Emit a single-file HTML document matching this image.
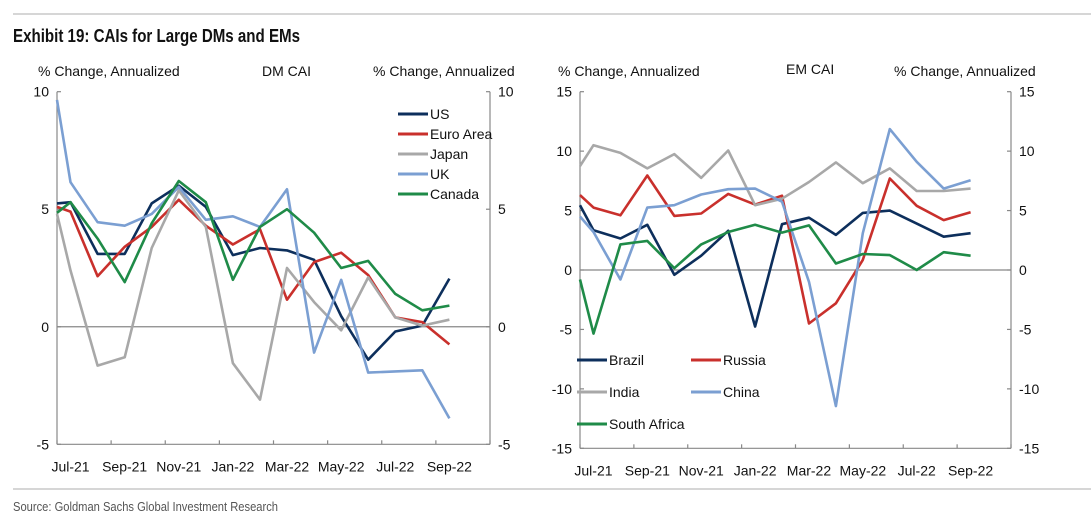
<!DOCTYPE html>
<html><head><meta charset="utf-8"><style>
body{margin:0;background:#fff;width:1091px;height:526px;overflow:hidden;font-family:"Liberation Sans",sans-serif}
svg text{font-family:"Liberation Sans",sans-serif;fill:#111}
</style></head><body>
<svg id="c" width="1091" height="526">
<line x1="13" y1="14" x2="1091" y2="14" stroke="#c8c8c8" stroke-width="1.5"/>
<text x="13" y="42" font-size="18" font-weight="bold" textLength="287" lengthAdjust="spacingAndGlyphs">Exhibit 19: CAIs for Large DMs and EMs</text>
<line x1="13" y1="489" x2="1091" y2="489" stroke="#c8c8c8" stroke-width="1.5"/>
<text x="13" y="511" font-size="13" textLength="265" lengthAdjust="spacingAndGlyphs" style="fill:#555">Source: Goldman Sachs Global Investment Research</text>
</svg>
<script>
const months=["Jul-21","Sep-21","Nov-21","Jan-22","Mar-22","May-22","Jul-22","Sep-22"];
const dmNames=["US","Euro Area","Japan","UK","Canada"];
const us=[5.25,5.3,3.1,3.1,5.25,6.0,5.1,3.05,3.35,3.25,2.85,0.45,-1.4,-0.2,0.05,2.05];
const euro=[5.1,4.9,2.15,3.4,4.25,5.4,4.3,3.5,4.15,1.15,2.75,3.15,2.2,0.4,0.2,-0.75];
const japan=[4.8,2.4,-1.65,-1.3,3.35,5.8,4.25,-1.55,-3.1,2.5,1.05,-0.15,2.1,0.4,0.05,0.3];
const uk=[9.65,6.15,4.45,4.3,4.8,5.95,4.55,4.7,4.25,5.85,-1.1,2.0,-1.95,-1.9,-1.85,-3.9];
const canada=[4.85,5.3,3.75,1.9,4.4,6.2,5.3,2.0,4.25,5.0,4.0,2.5,2.8,1.4,0.7,0.9];
const emNames=["Brazil","Russia","India","China","South Africa"];
const brazil=[5.45,3.35,2.65,3.8,-0.4,1.2,3.3,-4.75,3.85,4.4,2.95,4.8,5.0,3.9,2.8,3.1];
const russia=[6.3,5.25,4.6,7.95,4.55,4.75,6.4,5.5,6.25,-4.5,-2.8,0.85,7.7,5.4,4.2,4.85];
const india=[8.75,10.5,9.85,8.55,9.75,7.75,10.05,5.45,6.0,7.4,9.05,7.3,8.55,6.65,6.65,6.85];
const china=[4.5,3.2,-0.8,5.25,5.45,6.35,6.8,6.85,5.75,-1.0,-11.45,3.1,11.85,9.1,6.85,7.55];
const safrica=[-0.8,-5.35,2.15,2.45,0.15,2.15,3.2,3.8,3.15,3.75,0.55,1.35,1.25,0,1.5,1.2];
const dmTicks=[10,5,0,-5];
const emTicks=[15,10,5,0,-5,-10,-15];
const colors=["#0d2f5c","#c9302c","#a8a8a8","#7b9fd2","#1f8b48"];
const svg=document.getElementById('c');
const NS="http://www.w3.org/2000/svg";
function mk(t,a,p){const e=document.createElementNS(NS,t);for(const k in a)e.setAttribute(k,a[k]);(p||svg).appendChild(e);return e;}
function txt(x,y,s,anchor,size,name){const e=mk('text',{x:x,y:y,'font-size':size||14,'text-anchor':anchor||'start'});e.textContent=s;


return e;}
function chart(o){
 const g=mk('g',{});
 
 
 const X=m=>o.x0+(o.x1-o.x0)*m/16;
 const Y=v=>o.y0+(o.y1-o.y0)*(o.max-v)/(o.max-o.min);
 const ax={stroke:'#888','stroke-width':1.2};
 mk('line',Object.assign({x1:o.x0,y1:o.y0,x2:o.x0,y2:o.y1},ax),g);
 mk('line',Object.assign({x1:o.x1,y1:o.y0,x2:o.x1,y2:o.y1},ax),g);
 mk('line',Object.assign({x1:o.x0,y1:o.y1,x2:o.x1,y2:o.y1},ax),g);
 mk('line',Object.assign({x1:o.x0,y1:Y(0),x2:o.x1,y2:Y(0)},ax),g);
 o.ticks.forEach(t=>{
  mk('line',Object.assign({x1:o.x0,y1:Y(t),x2:o.x0+4,y2:Y(t)},ax),g);
  mk('line',Object.assign({x1:o.x1-4,y1:Y(t),x2:o.x1,y2:Y(t)},ax),g);
  txt(o.x0-8,Y(t)+5,String(t),'end',14,'y-tick-left');
  txt(o.x1+8,Y(t)+5,String(t),'start',14,'y-tick-right');
 });
 for(let i=0;i<=8;i++)mk('line',Object.assign({x1:X(i*2),y1:o.y1,x2:X(i*2),y2:o.y1-4},ax),g);
 months.forEach((m,i)=>txt(X(i*2+0.5),o.y1+27,m,'middle',14,'x-tick-label'));
 o.series.forEach((s,k)=>{
  const pts=s.map((v,i)=>X(i===0?0:i-0.5).toFixed(1)+','+Y(v).toFixed(1)).join(' ');
  const p=mk('polyline',{points:pts,fill:'none',stroke:colors[k],'stroke-width':2.6,'stroke-linejoin':'round'},g);
  
  
 });
 o.legend.forEach((l,k)=>{
  mk('line',{x1:l[0],y1:l[1],x2:l[0]+30,y2:l[1],stroke:colors[k],'stroke-width':3},g);
  txt(l[0]+32,l[1]+5,o.names[k],'start',14,'legend-entry');
 });
}
chart({name:'dm-cai-chart',x0:57,x1:490,y0:91.7,y1:444.3,max:10,min:-5,ticks:dmTicks,series:[us,euro,japan,uk,canada],names:dmNames,
 legend:[[398,114],[398,134],[398,154],[398,174],[398,194]]});
chart({name:'em-cai-chart',x0:580,x1:1011,y0:91.7,y1:448.3,max:15,min:-15,ticks:emTicks,series:[brazil,russia,india,china,safrica],names:emNames,
 legend:[[577,360],[691,360],[577,392],[691,392],[577,424]]});
txt(38,76,'% Change, Annualized','start',14,'dm-left-axis-title');
txt(262,76,'DM CAI','start',14,'dm-chart-title');
txt(373,76,'% Change, Annualized','start',14,'dm-right-axis-title');
txt(558,76,'% Change, Annualized','start',14,'em-left-axis-title');
txt(786,74,'EM CAI','start',14,'em-chart-title');
txt(894,76,'% Change, Annualized','start',14,'em-right-axis-title');
</script>
</body></html>
